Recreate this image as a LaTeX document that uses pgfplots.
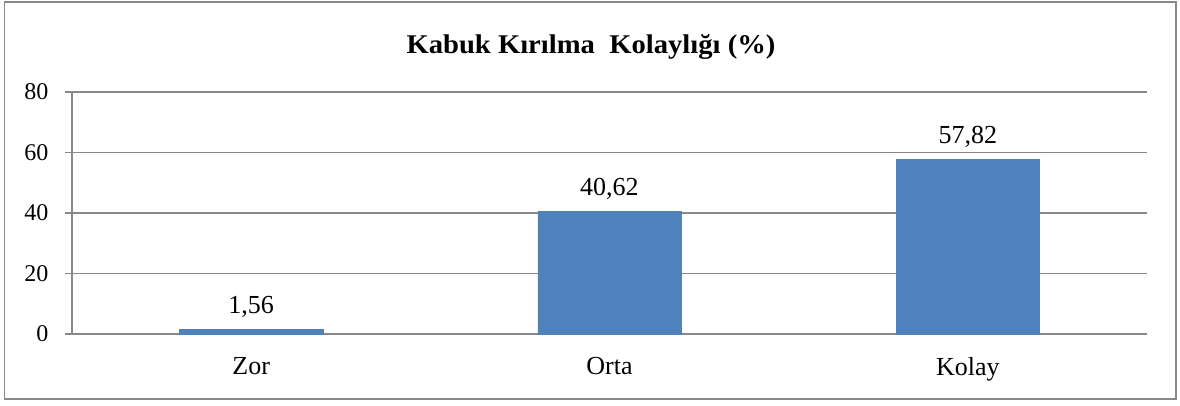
\documentclass[border=0pt]{standalone}
\usepackage{pgfplots}
\pgfplotsset{compat=1.18}
\usepackage{fontspec}
\setmainfont{Liberation Serif}
\definecolor{barblue}{HTML}{4F81BD}
\definecolor{gridgray}{HTML}{888888}
\begin{document}
\begin{tikzpicture}[x=1pt,y=1pt]
	\useasboundingbox (0,0) rectangle (1180,405);
	\draw[gridgray, line width=1.5pt] (4.5,6) rectangle (1176,403);
	\node[font=\fontsize{27}{32}\selectfont\bfseries, xscale=1.06] at (591,358) {Kabuk Kırılma\ \ Kolaylığı (\%)};
	\begin{axis}[
		at={(72pt,71pt)}, anchor=south west,
		scale only axis,
		width=1075pt, height=242pt,
		xmin=-0.5, xmax=2.5,
		ymin=0, ymax=80,
		ytick={0,20,40,60,80},
		xtick={0,1,2},
		xticklabels={Zor,Orta,Kolay},
		extra x ticks={-0.5,0.5,1.5,2.5},
		extra x tick labels={},
		extra x tick style={major tick length=8pt, tick style={gridgray, line width=1.5pt}},
		x tick style={draw=none},
		y tick style={gridgray, line width=1.5pt},
		major tick length=7pt,
		tick align=outside,
		axis x line*=bottom,
		axis y line*=left,
		axis line style={gridgray, line width=1.5pt, -},
		ymajorgrids,
		grid style={gridgray, line width=1.5pt},
		xticklabel style={font=\fontsize{26}{30}\selectfont, yshift=-13pt},
		yticklabel style={font=\fontsize{24}{28}\selectfont, xshift=-13pt},
		/pgf/number format/assume math mode=true,
		ybar,
		bar width=0.4,
		nodes near coords,
		nodes near coords style={font=\fontsize{26}{30}\selectfont, yshift=8pt,
			/pgf/number format/.cd, fixed, precision=2, fixed zerofill, use comma, assume math mode=true},
	]
		\addplot[fill=barblue, draw=barblue] coordinates {(0,1.56) (1,40.62) (2,57.82)};
	\end{axis}
\end{tikzpicture}
\end{document}
